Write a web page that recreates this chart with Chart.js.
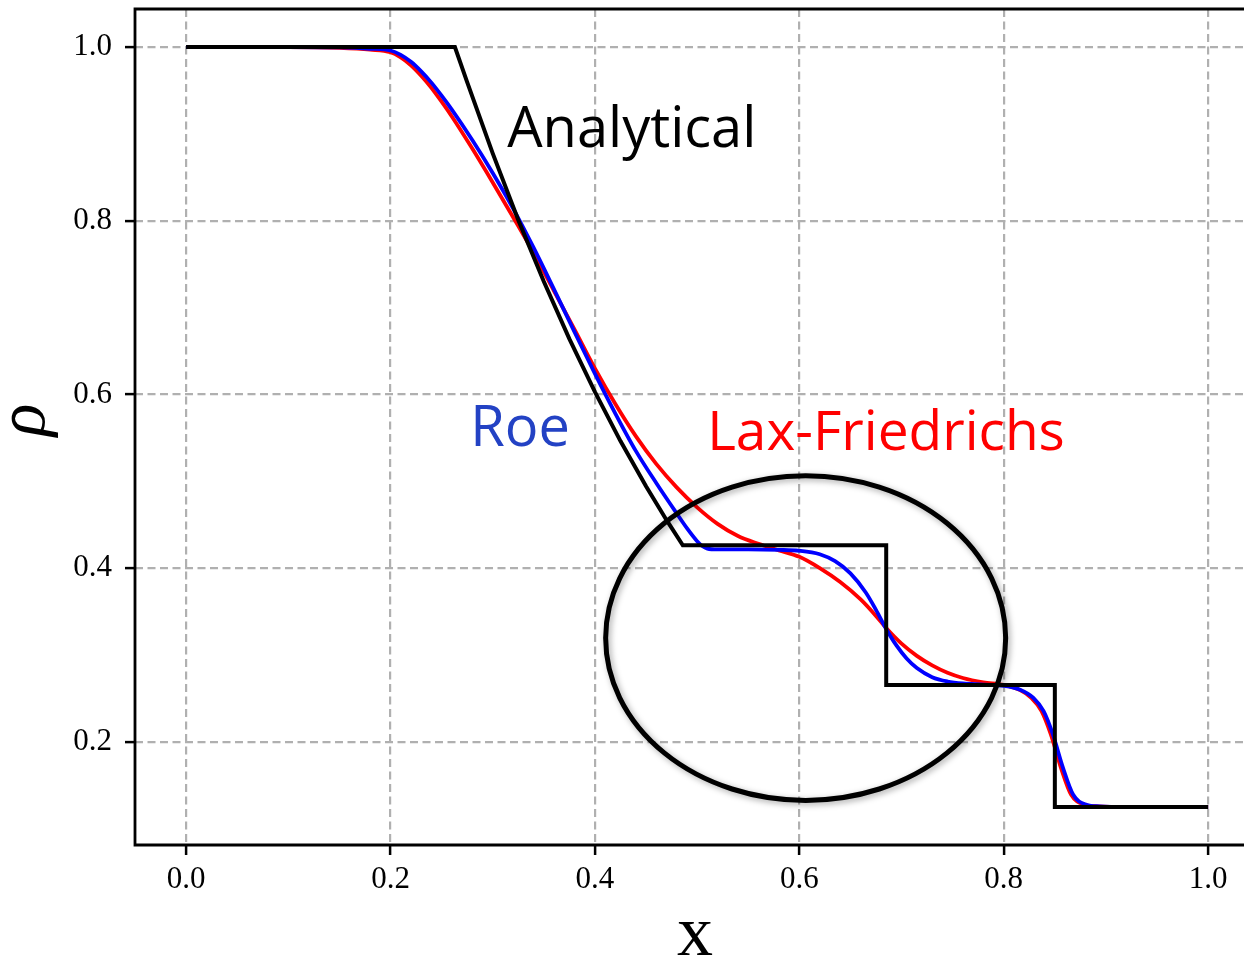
<!DOCTYPE html>
<html>
<head>
<meta charset="utf-8">
<title>Sod shock tube - density</title>
<script src="https://cdn.jsdelivr.net/npm/chart.js@4/dist/chart.umd.min.js"></script>
<style>
  html, body { margin: 0; padding: 0; background: #fff; overflow: hidden; }
  #wrap { width: 1244px; height: 962px; }
</style>
</head>
<body>
<div id="wrap"><canvas id="rhoChart" width="1244" height="962"></canvas></div>
<script>
// density profiles at t = 0.2
var exactX   = [0.0, 0.263, 0.275, 0.300, 0.325, 0.350, 0.375, 0.400, 0.425, 0.450, 0.470, 0.486, 0.685, 0.685, 0.850, 0.850, 1.0];
var exactRho = [1.0, 1.0, 0.9595, 0.8775, 0.8008, 0.730, 0.6639, 0.603, 0.5463, 0.4943, 0.4555, 0.4263, 0.4263, 0.2656, 0.2656, 0.125, 0.125];

var roeX   = [0.0, 0.10, 0.15, 0.18, 0.20, 0.21, 0.22, 0.23, 0.24, 0.25, 0.26, 0.28, 0.30, 0.32, 0.34, 0.36, 0.38, 0.40, 0.42, 0.44, 0.46, 0.48, 0.49, 0.50, 0.505, 0.51, 0.52, 0.55, 0.58, 0.60, 0.62, 0.635, 0.65, 0.665, 0.675, 0.685, 0.695, 0.705, 0.715, 0.73, 0.745, 0.76, 0.78, 0.80, 0.816, 0.829, 0.839, 0.848, 0.858, 0.868, 0.881, 0.894, 0.92, 1.0];
var roeRho = [1.0, 1.0, 0.9995, 0.998, 0.996, 0.991, 0.983, 0.972, 0.959, 0.944, 0.928, 0.893, 0.855, 0.814, 0.769, 0.721, 0.672, 0.624, 0.578, 0.535, 0.498, 0.463, 0.446, 0.431, 0.4255, 0.4225, 0.4215, 0.4215, 0.421, 0.420, 0.416, 0.408, 0.394, 0.372, 0.352, 0.330, 0.311, 0.296, 0.285, 0.2745, 0.2695, 0.2672, 0.266, 0.2645, 0.260, 0.2506, 0.2353, 0.2088, 0.170, 0.139, 0.1276, 0.1257, 0.125, 0.125];

var lfX   = [0.0, 0.10, 0.15, 0.18, 0.20, 0.21, 0.22, 0.23, 0.24, 0.25, 0.26, 0.28, 0.30, 0.32, 0.34, 0.36, 0.38, 0.40, 0.42, 0.44, 0.46, 0.48, 0.50, 0.52, 0.54, 0.56, 0.58, 0.60, 0.62, 0.64, 0.66, 0.675, 0.685, 0.70, 0.715, 0.73, 0.745, 0.76, 0.78, 0.80, 0.816, 0.827, 0.837, 0.846, 0.856, 0.866, 0.879, 0.892, 0.92, 1.0];
var lfRho = [1.0, 1.0, 0.999, 0.997, 0.994, 0.988, 0.979, 0.967, 0.953, 0.937, 0.920, 0.883, 0.844, 0.804, 0.763, 0.719, 0.675, 0.630, 0.589, 0.552, 0.520, 0.493, 0.470, 0.451, 0.437, 0.428, 0.4205, 0.413, 0.400, 0.384, 0.364, 0.345, 0.331, 0.313, 0.299, 0.288, 0.2795, 0.2735, 0.2685, 0.2655, 0.2595, 0.2506, 0.2353, 0.2088, 0.170, 0.139, 0.1276, 0.1257, 0.125, 0.125];

var xTicks = [0.0, 0.2, 0.4, 0.6, 0.8, 1.0];
var yTicks = [0.2, 0.4, 0.6, 0.8, 1.0];

// text labels and the highlighted region, in data units
var notes = [
    { text: 'Analytical', x: 0.3141, y: 0.8847, color: '#000000', size: 56 },
    { text: 'Roe', x: 0.2779, y: 0.541, color: '#2342c4', size: 56 },
    { text: 'Lax-Friedrichs', x: 0.5098, y: 0.5363, color: '#ff0000', size: 55 }
];
var ring = { cx: 0.6062, cy: 0.3195, rx: 0.1957, ry: 0.1869 };

function pts(xs, ys) {
    return xs.map(function (x, i) { return { x: x, y: ys[i] }; });
}

var serif = '"Liberation Serif", "DejaVu Serif", serif';

var decor = {
    id: 'decor',
    afterDatasetsDraw: function (chart) {
        var ctx = chart.ctx, a = chart.chartArea;
        var sx = chart.scales.x, sy = chart.scales.y;
        ctx.save();

        // axes frame (left, top, bottom)
        ctx.strokeStyle = '#000';
        ctx.lineWidth = 2.8;
        ctx.beginPath();
        ctx.moveTo(a.right + 2, a.top);
        ctx.lineTo(a.left, a.top);
        ctx.lineTo(a.left, a.bottom);
        ctx.lineTo(a.right + 2, a.bottom);
        ctx.stroke();

        // scheme labels
        ctx.textAlign = 'left';
        ctx.textBaseline = 'alphabetic';
        notes.forEach(function (n) {
            ctx.font = n.size + 'px "Open Sans", sans-serif';
            ctx.fillStyle = n.color;
            ctx.fillText(n.text, sx.getPixelForValue(n.x), sy.getPixelForValue(n.y));
        });

        // ellipse around the contact region
        var cx = sx.getPixelForValue(ring.cx), cy = sy.getPixelForValue(ring.cy);
        var rx = Math.abs(sx.getPixelForValue(ring.cx + ring.rx) - cx);
        var ry = Math.abs(sy.getPixelForValue(ring.cy + ring.ry) - cy);
        ctx.shadowColor = 'rgba(0,0,0,0.35)';
        ctx.shadowBlur = 6;
        ctx.shadowOffsetX = 2;
        ctx.shadowOffsetY = 2;
        ctx.lineWidth = 5;
        ctx.beginPath();
        ctx.ellipse(cx, cy, rx, ry, 0, 0, Math.PI * 2);
        ctx.stroke();
        ctx.restore();

        // axis titles
        ctx.save();
        ctx.fillStyle = '#000';
        ctx.textAlign = 'center';
        ctx.textBaseline = 'middle';
        ctx.font = '72px ' + serif;
        ctx.fillText('x', (a.left + a.right) / 2 + 6, 936);
        ctx.translate(26, 420);
        ctx.rotate(-Math.PI / 2);
        ctx.font = 'italic 68px ' + serif;
        ctx.fillText('\u03c1', 0, 0);
        ctx.restore();
    }
};

var gridOpts = {
    color: '#b0b0b0',
    lineWidth: 2.2,
    tickColor: '#000',
    tickWidth: 2.5,
    tickLength: 10
};

var ctx = document.getElementById('rhoChart').getContext('2d');
var rhoChart = new Chart(ctx, {
    type: 'scatter',
    data: {
        datasets: [{
            label: 'Analytical',
            data: pts(exactX, exactRho),
            showLine: true,
            borderColor: '#000000',
            borderWidth: 4,
            pointRadius: 0,
            tension: 0
        }, {
            label: 'Roe',
            data: pts(roeX, roeRho),
            showLine: true,
            borderColor: '#0000ff',
            borderWidth: 3.8,
            pointRadius: 0,
            cubicInterpolationMode: 'monotone'
        }, {
            label: 'Lax-Friedrichs',
            data: pts(lfX, lfRho),
            showLine: true,
            borderColor: '#ff0000',
            borderWidth: 3.8,
            pointRadius: 0,
            cubicInterpolationMode: 'monotone'
        }]
    },
    options: {
        responsive: false,
        animation: false,
        layout: { padding: { top: 9, right: 1, bottom: 0, left: 0 } },
        plugins: {
            legend: { display: false },
            tooltip: { enabled: false }
        },
        scales: {
            x: {
                type: 'linear',
                min: -0.05,
                max: 1.0341,
                afterFit: function (axis) {
                    axis.height = 117;
                    axis.paddingLeft = 0;
                    axis.paddingRight = 0;
                },
                afterBuildTicks: function (axis) {
                    axis.ticks = xTicks.map(function (v) { return { value: v }; });
                },
                border: { display: false, dash: [8, 4.5] },
                grid: gridOpts,
                ticks: {
                    color: '#000',
                    padding: 6,
                    maxRotation: 0,
                    font: { family: serif, size: 31 },
                    callback: function (v) { return v.toFixed(1); }
                }
            },
            y: {
                type: 'linear',
                min: 0.08125,
                max: 1.04375,
                afterFit: function (axis) {
                    axis.width = 135;
                    axis.paddingTop = 0;
                    axis.paddingBottom = 0;
                },
                afterBuildTicks: function (axis) {
                    axis.ticks = yTicks.map(function (v) { return { value: v }; });
                },
                border: { display: false, dash: [8, 4.5] },
                grid: gridOpts,
                ticks: {
                    color: '#000',
                    padding: 13,
                    font: { family: serif, size: 31 },
                    callback: function (v) { return v.toFixed(1); }
                }
            }
        }
    },
    plugins: [decor]
});
</script>
</body>
</html>
